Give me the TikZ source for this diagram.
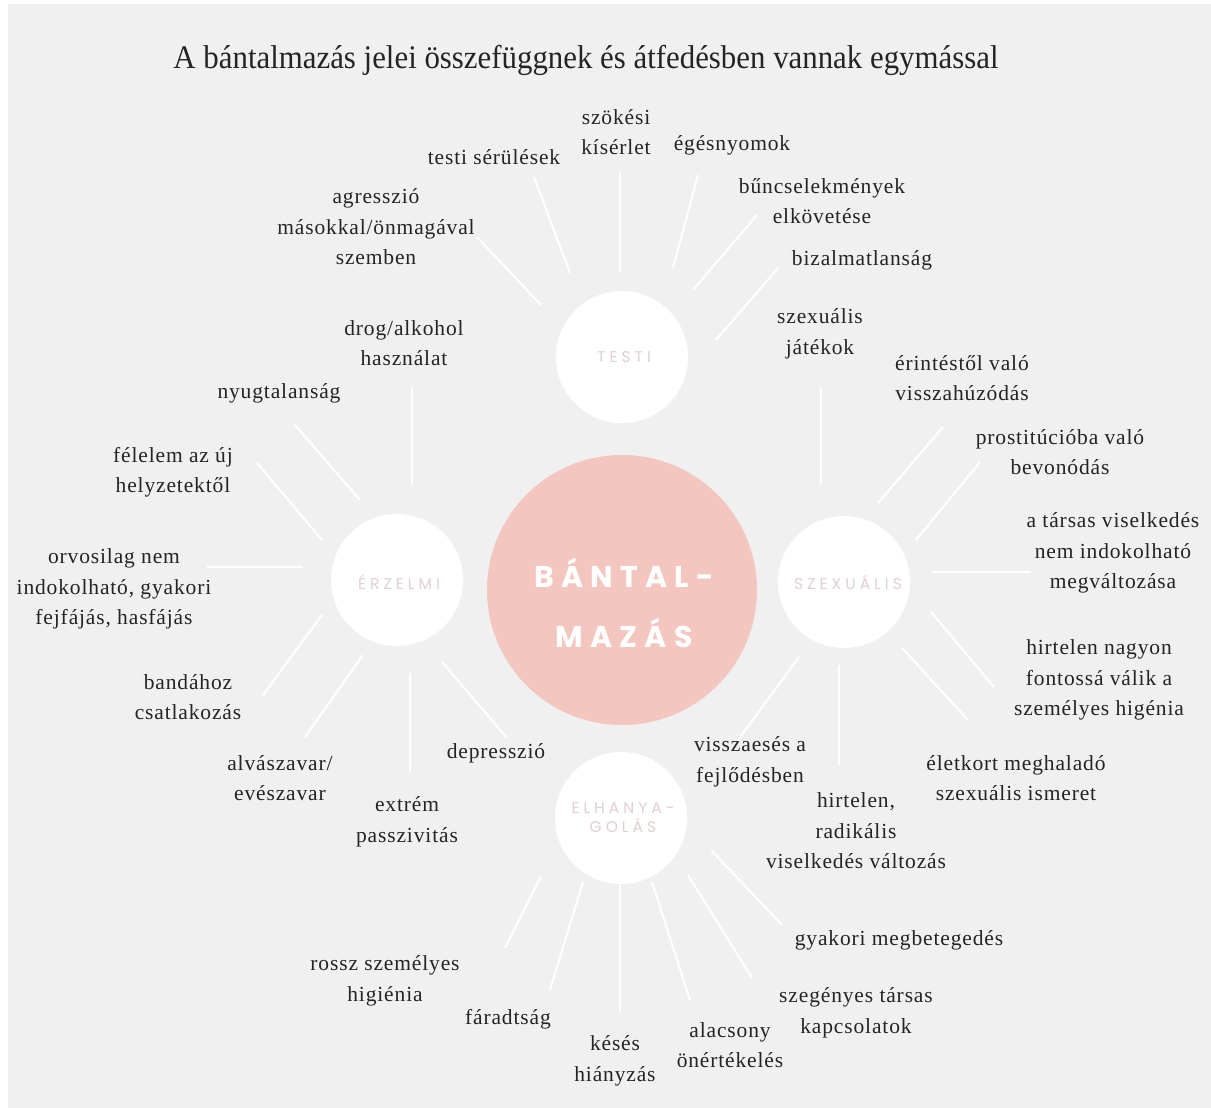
\documentclass[tikz,border=0pt]{standalone}
\usepackage{fontspec}
\setmainfont{Liberation Serif}
\newfontfamily\labfont[LetterSpace=4]{Liberation Serif}
\newfontfamily\bigfont[LetterSpace=24]{Poppins}
\newfontfamily\catfont[LetterSpace=26]{Poppins}
\definecolor{bg}{HTML}{F0F0F0}
\definecolor{txt}{HTML}{242424}
\definecolor{pinkc}{HTML}{F3C6C0}
\definecolor{catcol}{HTML}{E0D0D0}
\tikzset{
  lab/.style={font=\labfont\fontsize{21.5}{30.5}\selectfont, text=txt, align=center, inner sep=0pt},
  spoke/.style={draw=white, line width=2pt},
  bigc/.style={circle, fill=pinkc, minimum size=270pt, inner sep=0pt},
  catc/.style={circle, fill=white, minimum size=132pt, inner sep=0pt},
  cat/.style={font=\catfont\fontsize{15.5}{19}\selectfont, text=catcol, align=center, inner sep=0pt},
  bigtxt/.style={font=\bigfont\bfseries\fontsize{30}{60}\selectfont, text=white, inner sep=0pt, anchor=base},
}
\begin{document}
\begin{tikzpicture}[x=1pt,y=-1pt]
\useasboundingbox (0,0) rectangle (1211,1108);
\fill[white] (0,0) rectangle (1211,1108);
\fill[bg] (8,4) rectangle (1211,1108);

% spokes
\foreach \ax/\ay/\bx/\by in {
  477/237/541/305, 534/177/570/273, 620/172/620/272, 698/175/673/268, 757/215/693/290, 779/267/716/340,
  412/387/412/485, 295/425/360/500, 257/463/322/540, 207/567/303/567, 322/615/263/695, 363/655/305/737, 410/673/410/773, 442/662/507/738,
  821/388/821/485, 943/427/878/503, 980/462/916/540, 932/572/1031/572, 931/612/994/687, 902/648/968/720, 839/665/839/765, 799/657/738/740,
  711/850/782/925, 688/875/752/978, 652/882/690/1000, 620/885/620/1012, 583/882/550/990, 541/876/505/948}
  \draw[spoke] (\ax,\ay) -- (\bx,\by);

% circles
\node[bigc] (center) at (622,590) {};
\node[catc] (testi) at (622,357) {};
\node[catc] (erz) at (397,580) {};
\node[catc] (szex) at (844,582) {};
\node[catc] (elh) at (621,818) {};

\node[bigtxt] (ct1) at (624,587) {BÁNTAL-};
\node[bigtxt] (ct2) at (624,647) {MAZÁS};
\node[cat] (testil) at (624,357) {TESTI};
\node[cat] (erzl) at (399,582) {ÉRZELMI};
\node[cat] (szexl) at (848,582) {SZEXUÁLIS};
\node[cat] (elhl) at (623,818) {ELHANYA-\\GOLÁS};

% title
\node[font=\fontsize{33}{38}\selectfont, text=txt, inner sep=0pt, xscale=0.935] (title) at (586,60) {A bántalmazás jelei összefüggnek és átfedésben vannak egymással};

% TESTI labels
\node[lab] (t1) at (376,227) {agresszió\\másokkal/önmagával\\szemben};
\node[lab] (t2) at (494,157) {testi sérülések};
\node[lab] (t3) at (616,132) {szökési\\kísérlet};
\node[lab] (t4) at (732,145) {égésnyomok};
\node[lab] (t5) at (822,201) {bűncselekmények\\elkövetése};
\node[lab] (t6) at (862,260) {bizalmatlanság};

% ERZELMI labels
\node[lab] (e1) at (404,343) {drog/alkohol\\használat};
\node[lab] (e2) at (279,393) {nyugtalanság};
\node[lab] (e3) at (173,472) {félelem az új\\helyzetektől};
\node[lab] (e4) at (114,589) {orvosilag nem\\indokolható, gyakori\\fejfájás, hasfájás};
\node[lab] (e5) at (188,697) {bandához\\csatlakozás};
\node[lab] (e6) at (280,778) {alvászavar/\\evészavar};
\node[lab] (e7) at (407,822) {extrém\\passzivitás};
\node[lab] (e8) at (496,753) {depresszió};

% SZEXUALIS labels
\node[lab] (s1) at (820,334) {szexuális\\játékok};
\node[lab] (s2) at (962,378) {érintéstől való\\visszahúzódás};
\node[lab] (s3) at (1060,452) {prostitúcióba való\\bevonódás};
\node[lab] (s4) at (1113,553) {a társas viselkedés\\nem indokolható\\megváltozása};
\node[lab] (s5) at (1099,680) {hirtelen nagyon\\fontossá válik a\\személyes higénia};
\node[lab] (s6) at (1016,778) {életkort meghaladó\\szexuális ismeret};
\node[lab] (s7) at (856,831) {hirtelen,\\radikális\\viselkedés változás};
\node[lab] (s8) at (750,762) {visszaesés a\\fejlődésben};

% ELHANYAGOLAS labels
\node[lab] (n1) at (899,940) {gyakori megbetegedés};
\node[lab] (n2) at (856,1013) {szegényes társas\\kapcsolatok};
\node[lab] (n3) at (730,1045) {alacsony\\önértékelés};
\node[lab] (n4) at (615,1061) {késés\\hiányzás};
\node[lab] (n5) at (508,1019) {fáradtság};
\node[lab] (n6) at (385,981) {rossz személyes\\higiénia};
\end{tikzpicture}
\end{document}
